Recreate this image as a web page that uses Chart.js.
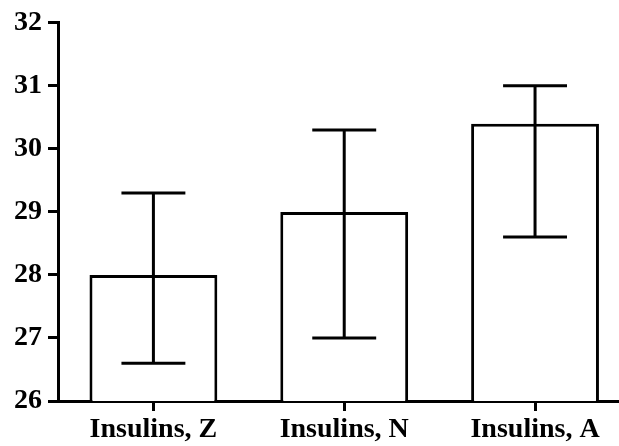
<!DOCTYPE html>
<html>
<head>
<meta charset="utf-8">
<script src="https://cdn.jsdelivr.net/npm/chart.js@4/dist/chart.umd.min.js"></script>
<style>
  html, body { margin: 0; padding: 0; background: #fff; overflow: hidden; }
  #wrap { width: 619px; height: 446px; }
</style>
</head>
<body>
<div id="wrap"><canvas id="c" width="619" height="446"></canvas></div>
<script>
// Group labels and measured means with their error limits
const categories = ['Insulins, Z', 'Insulins, N', 'Insulins, A'];
const means = [28.0, 29.0, 30.4];
const upperLimits = [29.3, 30.3, 31.0];
const lowerLimits = [26.6, 27.0, 28.6];
const yTicks = [26, 27, 28, 29, 30, 31, 32];

const labelFont = { family: '"Liberation Serif", "Times New Roman", serif', size: 28, weight: 'bold' };

// Draws the whiskers with caps half as wide as each bar
const errorBars = {
  id: 'errorBars',
  afterDatasetsDraw(chart) {
    const ctx = chart.ctx;
    const y = chart.scales.y;
    const meta = chart.getDatasetMeta(0);
    ctx.save();
    ctx.strokeStyle = '#000';
    ctx.lineWidth = 3;
    ctx.lineCap = 'butt';
    meta.data.forEach((bar, i) => {
      const x = bar.x;
      const half = bar.width / 4;
      const yHi = y.getPixelForValue(upperLimits[i]);
      const yLo = y.getPixelForValue(lowerLimits[i]);
      ctx.beginPath();
      ctx.moveTo(x, yHi);
      ctx.lineTo(x, yLo);
      ctx.moveTo(x - half, yHi);
      ctx.lineTo(x + half, yHi);
      ctx.moveTo(x - half, yLo);
      ctx.lineTo(x + half, yLo);
      ctx.stroke();
    });
    ctx.restore();
  }
};

new Chart(document.getElementById('c'), {
  type: 'bar',
  data: {
    datasets: [{
      data: means.map((v, i) => ({ x: i, y: v })),
      backgroundColor: '#ffffff',
      borderColor: '#000000',
      borderWidth: 3,
      barPercentage: 0.67,
      categoryPercentage: 1
    }]
  },
  options: {
    responsive: false,
    animation: false,
    devicePixelRatio: 1,
    layout: { padding: { top: 21, right: 0, bottom: 0, left: 0 } },
    plugins: { legend: { display: false }, tooltip: { enabled: false } },
    scales: {
      x: {
        type: 'linear',
        offset: false,
        min: -0.5,
        max: 2.44,
        afterBuildTicks(scale) {
          scale.ticks = categories.map((_, i) => ({ value: i }));
        },
        afterFit(scale) { scale.height = 45; },
        grid: {
          offset: false,
          drawOnChartArea: false,
          drawTicks: true,
          tickLength: 10,
          tickWidth: 3,
          tickColor: '#000'
        },
        border: { display: true, width: 3, color: '#000' },
        ticks: {
          color: '#000',
          font: labelFont,
          padding: 2,
          maxRotation: 0,
          autoSkip: false,
          callback: (v) => categories[v]
        }
      },
      y: {
        min: 26,
        max: 32,
        afterBuildTicks(scale) {
          scale.ticks = yTicks.map(v => ({ value: v }));
        },
        afterFit(scale) { scale.width = 58; },
        grid: {
          drawOnChartArea: false,
          drawTicks: true,
          tickLength: 10,
          tickWidth: 3,
          tickColor: '#000'
        },
        border: { display: true, width: 3, color: '#000' },
        ticks: {
          color: '#000',
          font: labelFont,
          padding: 6
        }
      }
    }
  },
  plugins: [errorBars]
});
</script>
</body>
</html>
